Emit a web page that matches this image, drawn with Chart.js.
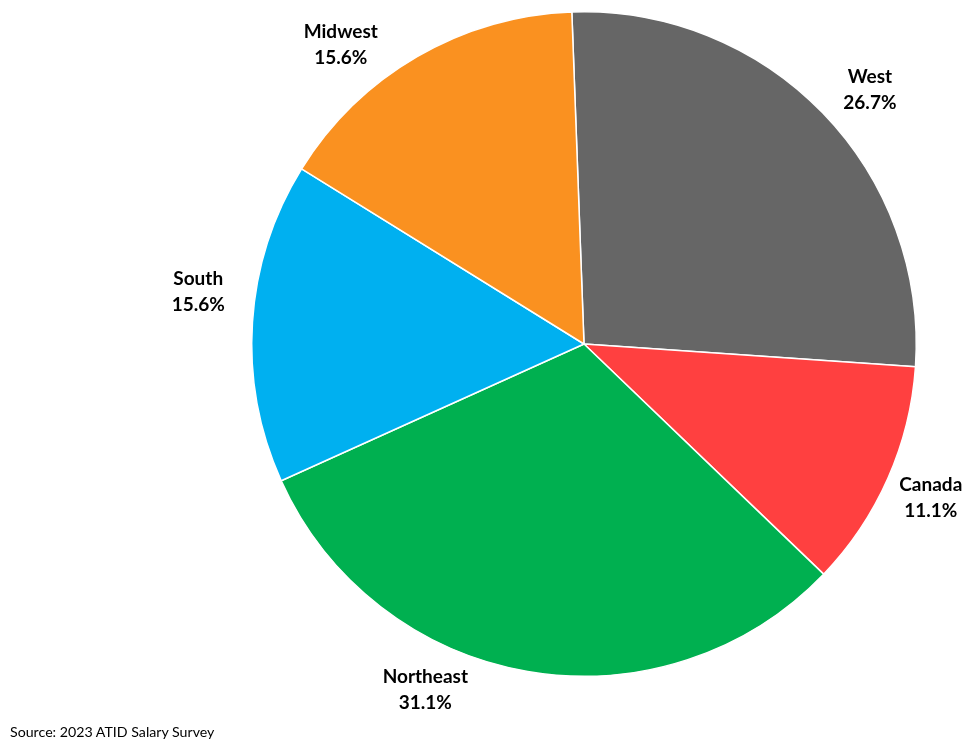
<!DOCTYPE html>
<html>
<head>
<meta charset="utf-8">
<script src="https://cdn.jsdelivr.net/npm/chart.js@4.4.0/dist/chart.umd.min.js"></script>
<style>
  html, body { margin: 0; padding: 0; background: #ffffff; }
  #wrap { position: relative; width: 970px; height: 744px; }
  #source { position: absolute; left: 10px; top: 723px; font-family: Lato, "Open Sans", sans-serif; font-size: 14.2px; color: #000; }
</style>
</head>
<body>
<div id="wrap">
  <canvas id="c" width="970" height="744"></canvas>
  <div id="source">Source: 2023 ATID Salary Survey</div>
</div>
<script>
const categories = ["West", "Canada", "Northeast", "South", "Midwest"];
const shares = [26.7, 11.1, 31.1, 15.6, 15.6];
const valueLabels = ["26.7%", "11.1%", "31.1%", "15.6%", "15.6%"];
const colors = ["#666666", "#FF4040", "#00B050", "#00B0F0", "#FA9120"];

// label placement tweaks (degrees shift from mid-angle, radial distance beyond the rim)
const labelAngleShift = [2.5, 0, 14.9, 3.9, -9];
const labelRadialGap = [50, 47, 48, 57, 53];

const labelPlugin = {
  id: 'outLabels',
  afterDatasetsDraw(chart) {
    const ctx = chart.ctx;
    const meta = chart.getDatasetMeta(0);
    ctx.save();
    ctx.fillStyle = '#000';
    ctx.font = 'bold 19px Lato, "Open Sans", sans-serif';
    ctx.textAlign = 'center';
    ctx.textBaseline = 'middle';
    meta.data.forEach((arc, i) => {
      const p = arc.getProps(['x', 'y', 'startAngle', 'endAngle', 'outerRadius'], true);
      const mid = (p.startAngle + p.endAngle) / 2 + labelAngleShift[i] * Math.PI / 180;
      const r = p.outerRadius + labelRadialGap[i];
      const x = p.x + Math.cos(mid) * r;
      const y = p.y + Math.sin(mid) * r;
      ctx.fillText(categories[i], x, y - 13);
      ctx.fillText(valueLabels[i], x, y + 13);
    });
    ctx.restore();
  }
};

new Chart(document.getElementById('c'), {
  type: 'pie',
  data: {
    labels: categories,
    datasets: [{
      data: shares,
      backgroundColor: colors,
      borderColor: '#ffffff',
      borderWidth: 1.5
    }]
  },
  options: {
    responsive: false,
    animation: false,
    rotation: -2.1,
    layout: { padding: { left: 251, right: 53, top: 11, bottom: 67 } },
    plugins: {
      legend: { display: false },
      tooltip: { enabled: false }
    }
  },
  plugins: [labelPlugin]
});
</script>
</body>
</html>
